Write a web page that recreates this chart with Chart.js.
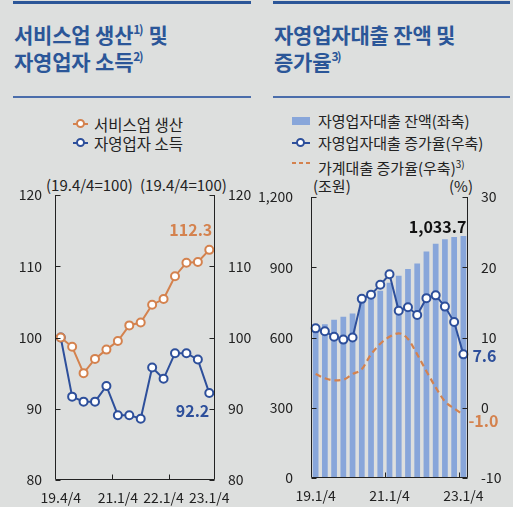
<!DOCTYPE html>
<html>
<head>
<meta charset="utf-8">
<script src="https://cdn.jsdelivr.net/npm/chart.js@4.4.0/dist/chart.umd.min.js"></script>
<style>
  body { margin: 0; background: #dddfde; font-family: 'Noto Sans CJK KR', 'Noto Sans', sans-serif; }
  #wrap { position: relative; width: 513px; height: 507px; overflow: hidden; }
  .abs { position: absolute; white-space: nowrap; }
  .rule { position: absolute; background: #2b5698; }
  .title { position: absolute; color: #2b5698; font-weight: bold; font-size: 21px; line-height: 27px; white-space: nowrap; letter-spacing: -0.2px; }
  .title sup { font-size: 12px; line-height: 0; vertical-align: 9px; letter-spacing: -1.5px; margin-right: 2px; }
  .leg { position: absolute; color: #222; font-size: 15.5px; line-height: 20px; white-space: nowrap; }
  .unit { position: absolute; color: #222; font-size: 15px; line-height: 18px; white-space: nowrap; }
  canvas { position: absolute; top: 0; }
</style>
</head>
<body>
<div id="wrap">
  <div class="rule" style="left:13px;top:1px;width:238px;height:3px"></div>
  <div class="rule" style="left:273px;top:1px;width:237px;height:3px"></div>
  <div class="title" style="left:14px;top:21px">서비스업 생산<sup>1)</sup> 및<br>자영업자 소득<sup>2)</sup></div>
  <div class="title" style="left:274px;top:21px">자영업자대출 잔액 및<br>증가율<sup>3)</sup></div>
  <div class="rule" style="left:13px;top:96px;width:238px;height:2px;background:#4a6dab"></div>
  <div class="rule" style="left:273px;top:96px;width:237px;height:2px;background:#4a6dab"></div>

  <!-- left legend -->
  <div class="abs" style="left:73px;top:123px;width:15px;height:2px;background:#d4824e"></div>
  <div class="abs" style="left:76px;top:119px;width:5px;height:5px;border:2px solid #d4824e;border-radius:50%;background:#fff"></div>
  <div class="leg" style="left:94px;top:114px">서비스업 생산</div>
  <div class="abs" style="left:73px;top:142px;width:15px;height:2px;background:#2d4f9b"></div>
  <div class="abs" style="left:76px;top:138px;width:5px;height:5px;border:2px solid #2d4f9b;border-radius:50%;background:#fff"></div>
  <div class="leg" style="left:94px;top:133px">자영업자 소득</div>

  <!-- right legend -->
  <div class="abs" style="left:292px;top:117px;width:18px;height:8px;background:#88a6da"></div>
  <div class="leg" style="left:318px;top:111px;font-size:15px">자영업자대출 잔액(좌축)</div>
  <div class="abs" style="left:292px;top:142px;width:18px;height:2px;background:#2d4f9b"></div>
  <div class="abs" style="left:296px;top:138px;width:5px;height:5px;border:2px solid #2d4f9b;border-radius:50%;background:#fff"></div>
  <div class="leg" style="left:318px;top:133px;font-size:15px">자영업자대출 증가율(우축)</div>
  <div class="abs" style="left:292px;top:162px;width:4px;height:2px;background:#d4824e"></div>
  <div class="abs" style="left:299px;top:162px;width:4px;height:2px;background:#d4824e"></div>
  <div class="abs" style="left:306px;top:162px;width:4px;height:2px;background:#d4824e"></div>
  <div class="leg" style="left:318px;top:154px;font-size:15px">가계대출 증가율(우축)<sup style="font-size:10px">3)</sup></div>

  <!-- units -->
  <div class="unit" style="left:46px;top:176px">(19.4/4=100)</div>
  <div class="unit" style="left:140px;top:176px">(19.4/4=100)</div>
  <div class="unit" style="left:313px;top:177px">(조원)</div>
  <div class="unit" style="left:449px;top:177px">(%)</div>

  <canvas id="left" width="256" height="507" style="left:0"></canvas>
  <canvas id="right" width="257" height="507" style="left:256px"></canvas>
</div>

<script>
// ---- data ----
var quartersL = ['19.4/4', '20.1/4', '20.2/4', '20.3/4', '20.4/4', '21.1/4', '21.2/4', '21.3/4',
                 '21.4/4', '22.1/4', '22.2/4', '22.3/4', '22.4/4', '23.1/4'];
var shownL = ['19.4/4', '21.1/4', '22.1/4', '23.1/4'];
var serviceProd = [100, 98.7, 95.0, 97.0, 98.3, 99.5, 101.7, 102.1, 104.6, 105.4, 108.6, 110.5, 110.6, 112.3];
var selfIncome = [100, 91.7, 91.0, 91.0, 93.2, 89.1, 89.1, 88.6, 95.8, 94.2, 97.8, 97.8, 96.9, 92.2];
var ticksL = [80, 90, 100, 110, 120];

var quartersR = ['19.1/4', '19.2/4', '19.3/4', '19.4/4', '20.1/4', '20.2/4', '20.3/4', '20.4/4',
                 '21.1/4', '21.2/4', '21.3/4', '21.4/4', '22.1/4', '22.2/4', '22.3/4', '22.4/4', '23.1/4'];
var shownR = ['19.1/4', '21.1/4', '23.1/4'];
var loanBalance = [625, 657, 676, 689, 703, 761, 774, 800, 834, 864, 893, 916, 967, 1000, 1020, 1029, 1033.7];
var loanGrowth = [11.3, 10.9, 10.1, 9.7, 10.0, 15.5, 16.1, 17.5, 19.0, 13.8, 14.3, 13.2, 15.6, 16.0, 14.4, 12.2, 7.6];
var householdGrowth = [4.8, 4.2, 3.9, 4.0, 4.8, 5.5, 7.6, 9.1, 10.1, 10.6, 9.8, 7.6, 5.2, 2.9, 0.9, -0.1, -1.0];
var balanceTicks = [0, 300, 600, 900, 1200];
var rateTicks = [-10, 0, 10, 20, 30];

var ORANGE = '#d4824e';
var BLUE = '#2d4f9b';
var BAR = '#88a6da';
var FONT = "'Noto Sans CJK KR', 'Noto Sans', sans-serif";

// axis frame with inward tick marks
var axisDeco = {
  id: 'axisDeco',
  afterDatasetsDraw: function(chart, args, opts) {
    var ctx = chart.ctx, a = chart.chartArea;
    var L = Math.round(a.left) + 0.5, R = Math.round(a.right) - 0.5, B = Math.round(a.bottom) - 0.5;
    ctx.save();
    ctx.strokeStyle = '#222';
    ctx.lineWidth = 1;
    ctx.beginPath();
    ctx.moveTo(L, a.top); ctx.lineTo(L, B); ctx.lineTo(R, B); ctx.lineTo(R, a.top);
    var yl = chart.scales.yL, yr = chart.scales.yR;
    yl.ticks.forEach(function(t) {
      var y = Math.round(yl.getPixelForValue(t.value)) + 0.5;
      ctx.moveTo(L, y); ctx.lineTo(L + 5, y);
    });
    yr.ticks.forEach(function(t) {
      var y = Math.round(yr.getPixelForValue(t.value)) + 0.5;
      ctx.moveTo(R, y); ctx.lineTo(R - 5, y);
    });
    opts.xMarks.forEach(function(v) {
      var x = Math.round(chart.scales.x.getPixelForValue(v)) + 0.5;
      ctx.moveTo(x, B); ctx.lineTo(x, B - 5);
    });
    ctx.stroke();
    ctx.restore();
  }
};

// value labels at the last point of given datasets
var endLabels = {
  id: 'endLabels',
  afterDraw: function(chart, args, opts) {
    var ctx = chart.ctx;
    ctx.save();
    ctx.font = 'bold 16px ' + FONT;
    ctx.textBaseline = 'middle';
    opts.items.forEach(function(it) {
      var ds = chart.data.datasets[it.ds];
      var i = ds.data.length - 1;
      var v = ds.data[i];
      var x = chart.scales.x.getPixelForValue(i);
      var y = chart.scales[ds.yAxisID].getPixelForValue(v);
      ctx.fillStyle = it.color;
      ctx.textAlign = it.align;
      var txt = v.toLocaleString('en-US', { minimumFractionDigits: 1, maximumFractionDigits: 1 });
      ctx.fillText(txt, x + it.dx, y + it.dy);
    });
    ctx.restore();
  }
};

function yAxis(pos, min, max, list, width, pad, fmt) {
  return {
    position: pos,
    min: min, max: max,
    afterBuildTicks: function(s) { s.ticks = list.map(function(v) { return { value: v }; }); },
    afterFit: function(s) { s.width = width; },
    grid: { display: false, drawTicks: false },
    border: { display: false },
    ticks: {
      padding: pad, color: '#222', font: { family: FONT, size: 14 },
      callback: fmt || function(v) { return v; }
    }
  };
}

function xAxis(shown, height, offset) {
  return {
    offset: offset,
    afterFit: function(s) { s.height = height; },
    grid: { display: false, drawTicks: false },
    border: { display: false },
    ticks: {
      autoSkip: false, maxRotation: 0, padding: 9, color: '#222', font: { family: FONT, size: 14 },
      callback: function(v) {
        var l = this.getLabelForValue(v);
        return shown.indexOf(l) >= 0 ? l : '';
      }
    }
  };
}

function pointLine(label, data, color, axis) {
  return {
    type: 'line', label: label, data: data, yAxisID: axis,
    borderColor: color, borderWidth: 2,
    pointRadius: 4, pointBorderWidth: 2, pointBackgroundColor: '#fff', pointBorderColor: color,
    tension: 0, order: 0
  };
}

new Chart(document.getElementById('left').getContext('2d'), {
  type: 'line',
  data: {
    labels: quartersL,
    datasets: [
      pointLine('서비스업 생산', serviceProd, ORANGE, 'yL'),
      pointLine('자영업자 소득', selfIncome, BLUE, 'yL')
    ]
  },
  options: {
    responsive: false,
    animation: false,
    layout: { padding: { top: 195, left: 0, right: 0, bottom: 0 } },
    plugins: {
      legend: { display: false },
      tooltip: { enabled: false },
      axisDeco: { xMarks: [4.5, 9.5] },
      endLabels: { items: [
        { ds: 0, color: ORANGE, align: 'right', dx: 3, dy: -20 },
        { ds: 1, color: BLUE, align: 'right', dx: 0, dy: 18 }
      ] }
    },
    scales: {
      x: xAxis(shownL, 27, true),
      yL: yAxis('left', 80, 120, ticksL, 55, 13),
      yR: yAxis('right', 80, 120, ticksL, 41, 13)
    }
  },
  plugins: [axisDeco, endLabels]
});

new Chart(document.getElementById('right').getContext('2d'), {
  type: 'bar',
  data: {
    labels: quartersR,
    datasets: [
      pointLine('자영업자대출 증가율(우축)', loanGrowth, BLUE, 'yR'),
      {
        type: 'line', label: '가계대출 증가율(우축)', data: householdGrowth, yAxisID: 'yR',
        borderColor: ORANGE, borderWidth: 2.2, borderDash: [6, 4], pointRadius: 0,
        tension: 0.4, cubicInterpolationMode: 'monotone', order: 1
      },
      {
        type: 'bar', label: '자영업자대출 잔액(좌축)', data: loanBalance, yAxisID: 'yL',
        backgroundColor: BAR, barPercentage: 0.62, categoryPercentage: 1.0, order: 2
      }
    ]
  },
  options: {
    responsive: false,
    animation: false,
    layout: { padding: { top: 197, left: 0, right: 0, bottom: 0 } },
    plugins: {
      legend: { display: false },
      tooltip: { enabled: false },
      axisDeco: { xMarks: [7.5, 15.5] },
      endLabels: { items: [
        { ds: 2, color: '#111', align: 'right', dx: 3, dy: -9 },
        { ds: 0, color: BLUE, align: 'left', dx: 9, dy: 2 },
        { ds: 1, color: ORANGE, align: 'left', dx: 5, dy: 6 }
      ] }
    },
    scales: {
      x: xAxis(shownR, 29, true),
      yL: yAxis('left', 0, 1200, balanceTicks, 55, 18, function(v) { return v.toLocaleString('en-US'); }),
      yR: yAxis('right', -10, 30, rateTicks, 45, 13)
    }
  },
  plugins: [axisDeco, endLabels]
});
</script>
</body>
</html>
